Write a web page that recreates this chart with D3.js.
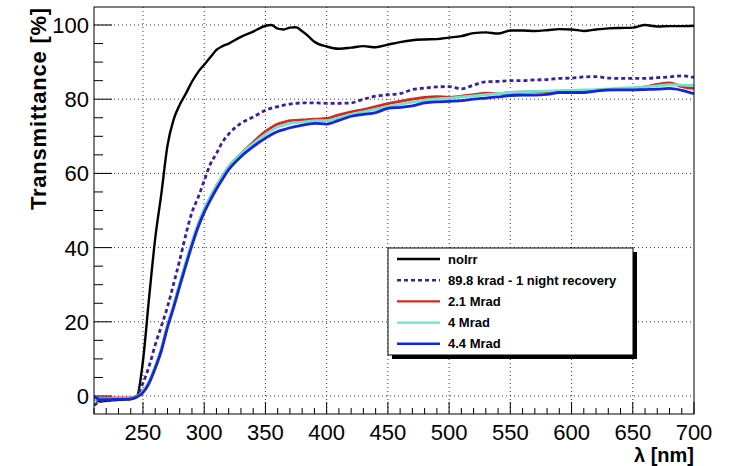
<!DOCTYPE html>
<html>
<head>
<meta charset="utf-8">
<script src="https://cdn.jsdelivr.net/npm/d3@7"></script>
<style>
  body { margin: 0; background: #fff; }
  svg { font-family: "Liberation Sans", Arial, Helvetica, sans-serif; }
</style>
</head>
<body>
<svg width="731" height="466"></svg>
<script>
// wavelength grid [nm]
var wavelength = [210,215,220,230,240,245,250,255,260,265,270,275,280,285,290,295,300,305,310,315,320,330,340,350,355,360,365,370,375,380,385,390,400,410,420,430,440,450,460,470,480,490,500,510,520,530,540,550,560,570,580,590,600,610,620,630,640,650,660,670,680,690,700];

// transmittance [%] per sample
var noIrr = [-0.5,-1.5,-1.3,-1.0,-0.8,-0.2,9.5,26.5,42.5,54.5,67.5,74.5,78.5,81.5,84.7,87.3,89.3,91.3,93.3,94.3,95.0,96.8,98.2,99.8,100.0,99.0,98.8,99.3,99.4,98.3,97.0,95.5,94.2,93.6,93.9,94.3,94.0,94.7,95.4,95.9,96.1,96.2,96.6,97.0,97.8,98.0,97.7,98.5,98.5,98.4,98.6,98.9,98.8,98.4,98.8,99.1,99.2,99.3,100.0,99.6,99.7,99.7,99.8];
var krad89 = [-2.5,-1.5,-1.2,-1.0,-0.8,0,3.5,8,13.8,18.8,24,30.2,36.6,43.5,49.5,53.5,58,62.5,65.4,68.5,70.6,73.5,75.2,77,77.6,78,78.4,78.7,78.9,79,79,79,78.9,78.9,79,80,80.8,81.2,81.5,82.6,83,83.3,83.4,82.8,83.8,84.7,84.8,85,85,85.2,85.3,85.6,85.7,86,86.1,85.7,85.6,85.6,85.6,85.8,86,86.3,85.9];
var mrad21 = [-0.8,-0.6,-0.5,-0.5,-0.5,0,1.2,3.8,7.8,12.6,18.9,24.3,30.1,35.8,41.2,46.2,50.2,53.6,56.6,59.3,61.8,65.3,68.4,71.3,72.4,73.3,73.8,74.2,74.3,74.4,74.5,74.6,74.8,75.8,76.6,77.2,78,78.8,79.4,80,80.5,80.7,80.5,80.8,81.2,81.6,81.5,81.8,81.9,82,82,82.1,82.2,82.2,82.4,82.5,82.6,82.7,83.3,84,84.4,83.4,82.9];
var mrad4 = [-1,-0.8,-0.8,-0.7,-0.6,-0.1,1.2,3.9,8,12.8,19.1,24.5,30.3,36,41.4,46.3,50.3,53.6,56.6,59.3,61.8,65.3,68,70.5,71.6,72.5,73,73.5,73.7,73.8,74,74.2,74.2,75,75.9,76.6,77.3,78,78.6,79.2,79.7,80.1,80.3,80.6,80.9,81.2,81.5,81.8,82,82.1,82.2,82.3,82.4,82.5,82.6,82.8,83,83.1,83.3,83.6,83.9,83.8,83.7];
var mrad44 = [0,-1,-1,-0.9,-0.8,-0.3,0.9,3.5,7.5,12.2,18.5,23.8,29.6,35.2,40.6,45.5,49.5,52.8,55.8,58.5,61,64.5,67.2,69.5,70.5,71.3,71.8,72.3,72.7,73,73.3,73.5,73.3,74.3,75.4,75.9,76.4,77.5,77.8,78.2,79,79.3,79.4,79.6,80,80.3,80.6,81,81.1,81.1,81.3,81.8,81.8,81.8,82.2,82.5,82.5,82.5,82.6,82.7,82.9,82.4,81.5];

var seriesNames = ["noIrr", "89.8 krad - 1 night recovery", "2.1 Mrad", "4 Mrad", "4.4 Mrad"];
var seriesValues = [noIrr, krad89, mrad21, mrad4, mrad44];
var seriesColors = ["#000000", "#3b1f9c", "#d42a1e", "#6fe3cc", "#1424e0"];
var seriesDash = [null, "4,3", null, null, null];

var xTicks = [250,300,350,400,450,500,550,600,650,700];
var yTicks = [0,20,40,60,80,100];

var svg = d3.select("svg"),
margin = {top: 7, right: 37, bottom: 52, left: 94},
width = +svg.attr("width") - margin.left - margin.right,
height = +svg.attr("height") - margin.top - margin.bottom,
g = svg.append("g").attr("transform", "translate(" + margin.left + "," + margin.top + ")");

var x = d3.scaleLinear().domain([210, 700]).range([0, width]);
var y = d3.scaleLinear().domain([-4.85, 104.85]).range([height, 0]);

// grid
g.append("g").selectAll("line").data(xTicks.slice(0, -1))
.enter().append("line")
.attr("x1", function(d) { return x(d); }).attr("x2", function(d) { return x(d); })
.attr("y1", 0).attr("y2", height)
.attr("stroke", "#333").attr("stroke-dasharray", "1,3");

g.append("g").selectAll("line").data(yTicks)
.enter().append("line")
.attr("y1", function(d) { return y(d); }).attr("y2", function(d) { return y(d); })
.attr("x1", 0).attr("x2", width)
.attr("stroke", "#333").attr("stroke-dasharray", "1,3");

// ticks inside the frame (ROOT style)
var xMinor = d3.range(210, 701, 10);
g.append("g").selectAll("line").data(xMinor)
.enter().append("line")
.attr("x1", function(d) { return x(d); }).attr("x2", function(d) { return x(d); })
.attr("y1", height)
.attr("y2", function(d) { return height - (d % 50 == 0 ? 12 : 6); })
.attr("stroke", "#000");

var yMinor = d3.range(0, 105, 5);
g.append("g").selectAll("line").data(yMinor)
.enter().append("line")
.attr("y1", function(d) { return y(d); }).attr("y2", function(d) { return y(d); })
.attr("x1", 0)
.attr("x2", function(d) { return d % 20 == 0 ? 18 : 9; })
.attr("stroke", "#000");

// tick labels
g.append("g").selectAll("text").data(xTicks)
.enter().append("text")
.attr("x", function(d) { return x(d); })
.attr("y", height + 26)
.attr("text-anchor", "middle")
.attr("font-size", 22)
.text(function(d) { return d; });

g.append("g").selectAll("text").data(yTicks)
.enter().append("text")
.attr("x", -5)
.attr("y", function(d) { return y(d) + 8; })
.attr("text-anchor", "end")
.attr("font-size", 22)
.text(function(d) { return d; });

// curves
var line = d3.line()
.x(function(d) { return x(d[0]); })
.y(function(d) { return y(d[1]); })
.curve(d3.curveMonotoneX);

svg.append("clipPath").attr("id", "plotclip")
.append("rect").attr("width", width).attr("height", height);

g.append("g").attr("clip-path", "url(#plotclip)")
.selectAll("path").data(seriesValues)
.enter().append("path")
.attr("d", function(vals) { return line(wavelength.map(function(w, i) { return [w, vals[i]]; })); })
.attr("fill", "none")
.attr("stroke", function(d, i) { return seriesColors[i]; })
.attr("stroke-width", function(d, i) { return i == 0 ? 2.4 : 2.8; })
.attr("stroke-dasharray", function(d, i) { return seriesDash[i]; })
.attr("stroke-linejoin", "round");

// frame
g.append("rect")
.attr("width", width).attr("height", height)
.attr("fill", "none").attr("stroke", "#000");

// axis titles
g.append("text")
.attr("x", width)
.attr("y", height + 48)
.attr("text-anchor", "end")
.attr("font-size", 20)
.attr("font-weight", "bold")
.text("λ [nm]");

svg.append("text")
.attr("transform", "rotate(-90)")
.attr("x", -7)
.attr("y", 46)
.attr("text-anchor", "end")
.attr("font-size", 22)
.attr("letter-spacing", 0.8)
.attr("font-weight", "bold")
.text("Transmittance [%]");

// legend
var legend = svg.append("g").attr("transform", "translate(388,248)");
legend.append("rect").attr("x", 4).attr("y", 4).attr("width", 245).attr("height", 107).attr("fill", "#000");
legend.append("rect").attr("width", 245).attr("height", 107).attr("fill", "#fff").attr("stroke", "#000");

var entry = legend.selectAll("g.entry").data(seriesNames)
.enter().append("g")
.attr("class", "entry")
.attr("transform", function(d, i) { return "translate(0," + (11 + i * 21.2) + ")"; });

entry.append("line")
.attr("x1", 9).attr("x2", 52)
.attr("stroke", function(d, i) { return seriesColors[i]; })
.attr("stroke-width", 2.4)
.attr("stroke-dasharray", function(d, i) { return seriesDash[i]; });

entry.append("text")
.attr("x", 60)
.attr("dy", "0.36em")
.attr("font-size", 13)
.attr("font-weight", "bold")
.text(function(d) { return d; });
</script>
</body>
</html>
